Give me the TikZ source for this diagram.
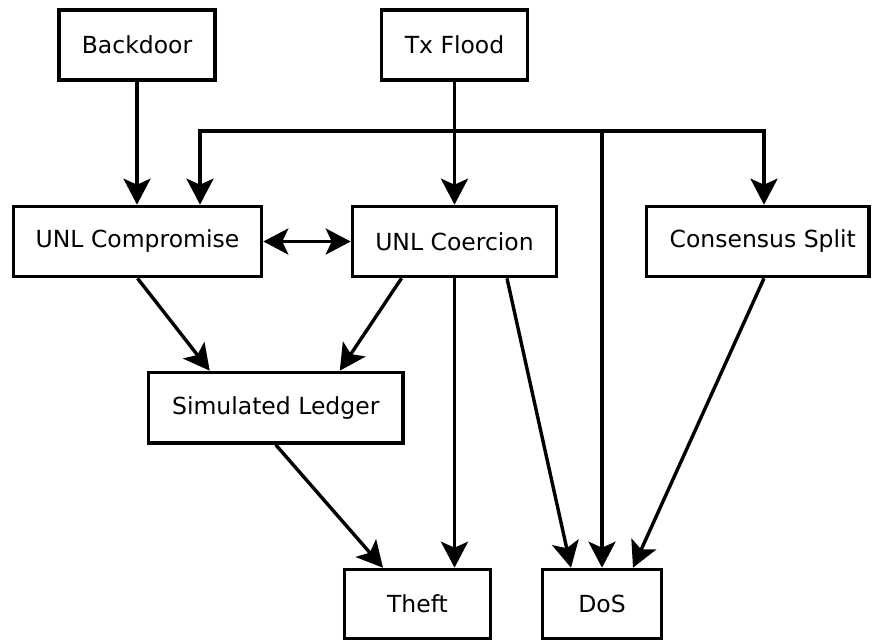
\documentclass[tikz,border=0pt]{standalone}
\usepackage{fontspec}
\setmainfont{DejaVu Sans}
\usetikzlibrary{arrows.meta}
\begin{document}
\begin{tikzpicture}[x=1pt,y=-1pt,
  box/.style={draw=black,line width=3.6pt,fill=white,inner sep=0pt,minimum height=70pt,
    font=\fontsize{23.5}{28}\selectfont},
  arr/.style={draw=black,line width=3.4pt,-{Stealth[length=26pt,width=27pt,inset=6pt]}},
  arr2/.style={draw=black,line width=3.4pt,{Stealth[length=25pt,width=26pt,inset=6pt]}-{Stealth[length=25pt,width=26pt,inset=6pt]}}
]
\useasboundingbox (0,0) rectangle (872,641);
\node[box,minimum width=156pt] (bd) at (137,45) {Backdoor};
\node[box,minimum width=146pt] (tx) at (454.5,45) {Tx Flood};
\node[box,minimum width=248pt] (ucomp) at (137.5,241.5) {UNL Compromise};
\node[box,minimum width=204pt] (ucoer) at (454.5,241.5) {UNL Coercion};
\node[box,minimum width=222.5pt] (cs) at (757.75,241.5) {\hspace*{10pt}Consensus Split};
\node[box,minimum width=254.5pt,minimum height=70.5pt] (sim) at (275.75,407.75) {Simulated Ledger};
\node[box,minimum width=146pt,minimum height=69pt] (theft) at (417.5,604) {Theft};
\node[box,minimum width=119pt,minimum height=69pt] (dos) at (602,604) {DoS};
\coordinate (split) at (454.5,131);
% top arrows
\draw[arr] (bd.south) -- (bd.south |- ucomp.north);
\draw[arr] (tx.south) -- (ucoer.north);
\draw[arr] (split) -| ([xshift=62.5pt]ucomp.north);
\draw[arr] (split) -| ([xshift=6.25pt]cs.north);
\draw[arr] (split) -| (dos.north);
% middle
\draw[arr2] (ucomp.east) -- (ucoer.west);
\draw[arr] (ucomp.south) -- ([xshift=-66pt]sim.north);
\draw[arr] ([xshift=-53pt]ucoer.south) -- ([xshift=64pt]sim.north);
\draw[arr] (ucoer.south) -- (ucoer.south |- theft.north);
\draw[arr] ([xshift=52.5pt]ucoer.south) -- ([xshift=-31pt]dos.north);
\draw[arr] ([xshift=6.25pt]cs.south) -- ([xshift=31pt]dos.north);
\draw[arr] (sim.south) -- ([xshift=-34.5pt]theft.north);
\end{tikzpicture}
\end{document}
